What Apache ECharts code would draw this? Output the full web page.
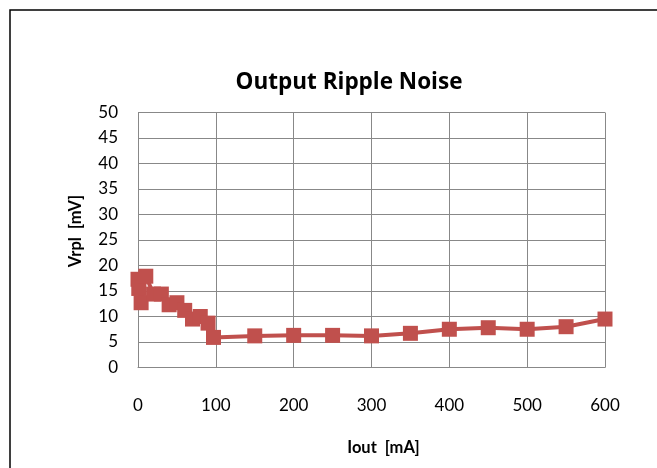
<!DOCTYPE html>
<html>
<head>
<meta charset="utf-8">
<script src="https://cdn.jsdelivr.net/npm/echarts@6/dist/echarts.min.js"></script>
<style>html,body{margin:0;padding:0;background:#fff;}#c{width:657px;height:468px;}</style>
</head>
<body>
<div id="c"></div>
<script>
const iout = [0, 1, 4, 10, 20, 30, 40, 50, 60, 70, 80, 90, 97, 150, 200, 250, 300, 350, 400, 450, 500, 550, 600];
const vrpl = [17.3, 15.5, 12.7, 17.9, 14.4, 14.4, 12.3, 12.7, 11.2, 9.5, 10.0, 8.7, 5.9, 6.2, 6.3, 6.3, 6.2, 6.7, 7.5, 7.8, 7.5, 8.0, 9.5];
const xTicks = [0, 100, 200, 300, 400, 500, 600];
const yTicks = [0, 5, 10, 15, 20, 25, 30, 35, 40, 45, 50];
const titleText = 'Output Ripple Noise';
const xName = 'Iout  [mA]';
const yName = 'Vrpl  [mV]';

const chart = echarts.init(document.getElementById('c'), null, {renderer: 'canvas'});
const FONT = 'Lato, "Open Sans", sans-serif';
chart.setOption({
  animation: false,
  backgroundColor: '#fff',
  graphic: [{
    type: 'rect',
    shape: {x: 10, y: 10, width: 720, height: 520},
    style: {fill: 'none', stroke: '#000', lineWidth: 1.5},
    silent: true
  }],
  title: {
    text: titleText,
    left: 344,
    top: 66,
    textAlign: 'center',
    textStyle: {fontFamily: '"Open Sans", Lato, sans-serif', fontSize: 22.5, fontWeight: 'bold', color: '#000'}
  },
  grid: {left: 138, top: 112.5, width: 467, height: 255, containLabel: false},
  xAxis: {
    type: 'value',
    min: xTicks[0], max: xTicks[xTicks.length - 1], interval: 100,
    name: xName, nameLocation: 'middle', nameGap: 72,
    nameTextStyle: {fontFamily: FONT, fontSize: 16.5, fontWeight: 'bold', color: '#000', padding: [0, 0, 0, 24]},
    axisLine: {show: true, lineStyle: {color: '#888', width: 1}},
    axisTick: {show: false},
    splitLine: {show: true, lineStyle: {color: '#888', width: 1}},
    axisLabel: {margin: 30, fontFamily: FONT, fontSize: 17, color: '#000'}
  },
  yAxis: {
    type: 'value',
    min: yTicks[0], max: yTicks[yTicks.length - 1], interval: 5,
    name: yName, nameLocation: 'middle', nameGap: 54,
    nameTextStyle: {fontFamily: FONT, fontSize: 16.5, fontWeight: 'bold', color: '#000', padding: [0, 0, 0, 18]},
    axisLine: {show: true, lineStyle: {color: '#888', width: 1}},
    axisTick: {show: false},
    splitLine: {show: true, lineStyle: {color: '#888', width: 1}},
    axisLabel: {margin: 20, fontFamily: FONT, fontSize: 17, color: '#000'}
  },
  series: [{
    type: 'line',
    data: iout.map((x, i) => [x, vrpl[i]]),
    symbol: 'rect',
    symbolSize: 15,
    lineStyle: {color: '#C0504D', width: 4},
    itemStyle: {color: '#C0504D'},
    clip: false
  }]
});
</script>
</body>
</html>
